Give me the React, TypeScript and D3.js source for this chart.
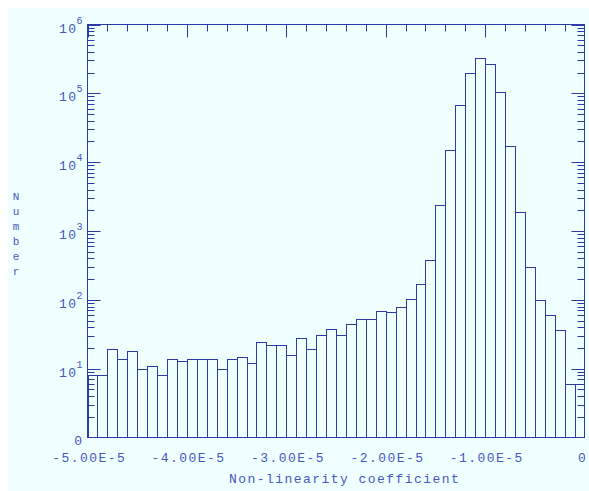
import React from "react";
import * as d3 from "d3";

// Histogram bins: lower edge of each bin (x 1e-6) and counts
const binStart = -5e-5;
const binWidth = 1e-6;
const counts = [
  8, 8, 19, 14, 18, 10, 11, 8, 14, 13,
  14, 14, 14, 10, 14, 15, 12, 24, 22, 22,
  16, 28, 19, 31, 38, 31, 45, 53, 52, 68,
  66, 80, 103, 172, 374, 2410, 14930, 68100, 198500, 327500,
  271000, 103800, 17300, 1862, 299, 99, 61, 36, 6, 6,
];
const xTickValues = [-5e-5, -4e-5, -3e-5, -2e-5, -1e-5, 0];
const xTickLabels = ["-5.00E-5", "-4.00E-5", "-3.00E-5", "-2.00E-5", "-1.00E-5", "0"];
const yDecades = [1, 2, 3, 4, 5, 6];

const W = 581;
const H = 483;
const left = 79.5;
const right = 576.5;
const top = 16.5;
const bottom = 429.5;

const LINE = "#2a3aa8";
const TEXT = "#4656c0";
const BG = "#f0ffff";
const FONT = "'Liberation Mono', 'DejaVu Sans Mono', monospace";
const LS = 1.45;

export default function App() {
  const x = d3.scaleLinear().domain([-5e-5, 0]).range([left, right]);
  const y = d3.scaleLog().domain([1, 1e6]).range([bottom, top]);

  const minorX = d3.range(-5e-5, 1e-7, 2e-6);
  const minorY: number[] = [];
  for (let d = 0; d < 6; d++) {
    for (let m = 2; m <= 9; m++) minorY.push(m * Math.pow(10, d));
  }

  const bars = counts.map((c, i) => {
    const x0 = binStart + i * binWidth;
    return { x0, x1: x0 + binWidth, c };
  });

  const textStyle = {
    fontFamily: FONT,
    fontSize: 13,
    letterSpacing: LS,
    fill: TEXT,
  } as React.CSSProperties;

  return (
    <svg
      width={W}
      height={H}
      style={{ display: "block", background: BG, position: "fixed", left: 8, top: 8 }}
    >
      <rect x={0} y={0} width={W} height={H} fill={BG} />
      {/* histogram bars */}
      <g fill="none" stroke={LINE} strokeWidth={1}>
        {bars.map((b, i) => (
          <rect
            key={i}
            x={Math.round(x(b.x0)) + 0.5}
            y={Math.round(y(b.c)) + 0.5}
            width={Math.round(x(b.x1)) - Math.round(x(b.x0))}
            height={bottom - (Math.round(y(b.c)) + 0.5)}
          />
        ))}
      </g>
      {/* frame */}
      <rect
        x={left}
        y={top}
        width={right - left}
        height={bottom - top}
        fill="none"
        stroke={LINE}
        strokeWidth={1}
      />
      {/* ticks, drawn inward on all four sides */}
      <g stroke={LINE} strokeWidth={1}>
        {minorX.map((v, i) => {
          const px = Math.round(x(v)) + 0.5;
          const major = Math.abs((v / 1e-5) - Math.round(v / 1e-5)) < 1e-6;
          const len = major ? 13 : 7;
          return (
            <g key={i}>
              <line x1={px} x2={px} y1={top} y2={top + len} />
              <line x1={px} x2={px} y1={bottom} y2={bottom - len} />
            </g>
          );
        })}
        {yDecades.map((d) => {
          const py = Math.round(y(Math.pow(10, d))) + 0.5;
          return (
            <g key={"M" + d}>
              <line x1={left} x2={left + 13} y1={py} y2={py} />
              <line x1={right} x2={right - 13} y1={py} y2={py} />
            </g>
          );
        })}
        {minorY.map((v, i) => {
          const py = Math.round(y(v)) + 0.5;
          return (
            <g key={"m" + i}>
              <line x1={left} x2={left + 7} y1={py} y2={py} />
              <line x1={right} x2={right - 7} y1={py} y2={py} />
            </g>
          );
        })}
      </g>
      {/* x tick labels */}
      {xTickValues.map((v, i) => (
        <text
          key={i}
          x={x(v) + LS / 2 + (v === 0 ? -2.5 : 1)}
          y={454}
          textAnchor="middle"
          style={textStyle}
        >
          {xTickLabels[i]}
        </text>
      ))}
      {/* y tick labels */}
      <text x={74 + LS} y={bottom + 7} textAnchor="end" style={textStyle}>
        0
      </text>
      {yDecades.map((d) => {
        const py = y(Math.pow(10, d));
        return (
          <g key={d}>
            <text x={68 + LS} y={py + 8} textAnchor="end" style={textStyle}>
              10
            </text>
            <text
              x={68.5}
              y={py - 1}
              style={{ ...textStyle, fontSize: 10, letterSpacing: 0 }}
            >
              {String(d)}
            </text>
          </g>
        );
      })}
      {/* axis titles */}
      <text x={336 + LS / 2} y={475} textAnchor="middle" style={textStyle}>
        Non-linearity coefficient
      </text>
      {"Number".split("").map((ch, i) => (
        <text
          key={i}
          x={8}
          y={192 + i * 15}
          textAnchor="middle"
          style={{ ...textStyle, fontSize: 11, letterSpacing: 0 }}
        >
          {ch}
        </text>
      ))}
    </svg>
  );
}
